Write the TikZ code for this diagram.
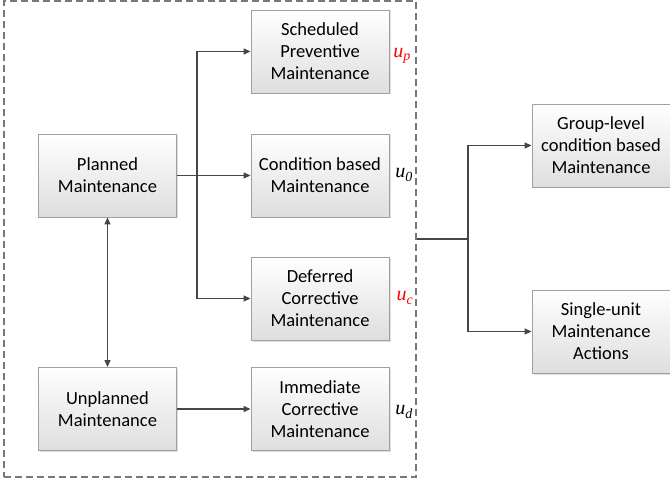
\documentclass[tikz,border=0pt]{standalone}
\usepackage{fontspec}
\setmainfont{Carlito}
\newfontfamily\lser{Liberation Serif}
\usetikzlibrary{arrows.meta,shadows}
\definecolor{boxline}{RGB}{160,160,160}
\definecolor{arrowc}{RGB}{70,70,70}
\definecolor{framec}{RGB}{120,120,120}
\definecolor{boxbot}{RGB}{222,222,222}
\tikzset{
  box/.style={draw=boxline, line width=0.9pt, top color=white, bottom color=boxbot,
    minimum width=138pt, minimum height=83pt, inner sep=0pt, align=center,
    font=\fontsize{18.5}{22}\selectfont,
    drop shadow={opacity=0.25, shadow xshift=1.5pt, shadow yshift=-1.5pt}},
  conn/.style={draw=arrowc, line width=1.3pt, -{Triangle[length=7pt,width=6pt]}},
  plain/.style={draw=arrowc, line width=1.3pt},
  frame/.style={draw=framec, line width=1.3pt, dash pattern=on 7pt off 4pt,
    minimum width=412pt, minimum height=476pt, inner sep=0pt},
  lab/.style={font=\lser\itshape\fontsize{20}{22}\selectfont, inner sep=0pt}
}
\begin{document}
\begin{tikzpicture}[x=1pt,y=-1pt]
\useasboundingbox (0,0) rectangle (670,484);
\node[frame] (frame) at (210,239) {};
\node[box] (sp) at (320,51.5) {Scheduled\\Preventive\\Maintenance};
\node[box] (cb) at (320,175.5) {Condition based\\Maintenance};
\node[box] (pm) at (107.5,175.5) {Planned\\Maintenance};
\node[box] (dc) at (320,298.5) {Deferred\\Corrective\\Maintenance};
\node[box] (um) at (107.5,409) {Unplanned\\Maintenance};
\node[box] (ic) at (320,409) {Immediate\\Corrective\\Maintenance};
\node[box] (gl) at (601,145.5) {Group-level\\condition based\\Maintenance};
\node[box] (su) at (601,331.5) {Single-unit\\Maintenance\\Actions};
\node[lab, text=red] (lp) at (402,56) {u\textsubscript{p}};
\node[lab] (l0) at (404,175) {u\textsubscript{0}};
\node[lab, text=red] (lc) at (405,298) {u\textsubscript{c}};
\node[lab] (ld) at (404,412) {u\textsubscript{d}};
\coordinate (br) at (197,175.5);
\coordinate (br2) at (468,239);
\draw[conn] (pm.east) -- (cb.west);
\draw[conn] (br) |- (sp.west);
\draw[conn] (br) |- (dc.west);
\draw[conn, {Triangle[length=7pt,width=6pt]}-{Triangle[length=7pt,width=6pt]}] (pm.south) -- (um.north);
\draw[conn] (um.east) -- (ic.west);
\draw[plain] (frame.east) -- (br2);
\draw[conn] (br2) |- (gl.west);
\draw[conn] (br2) |- (su.west);
\end{tikzpicture}
\end{document}
